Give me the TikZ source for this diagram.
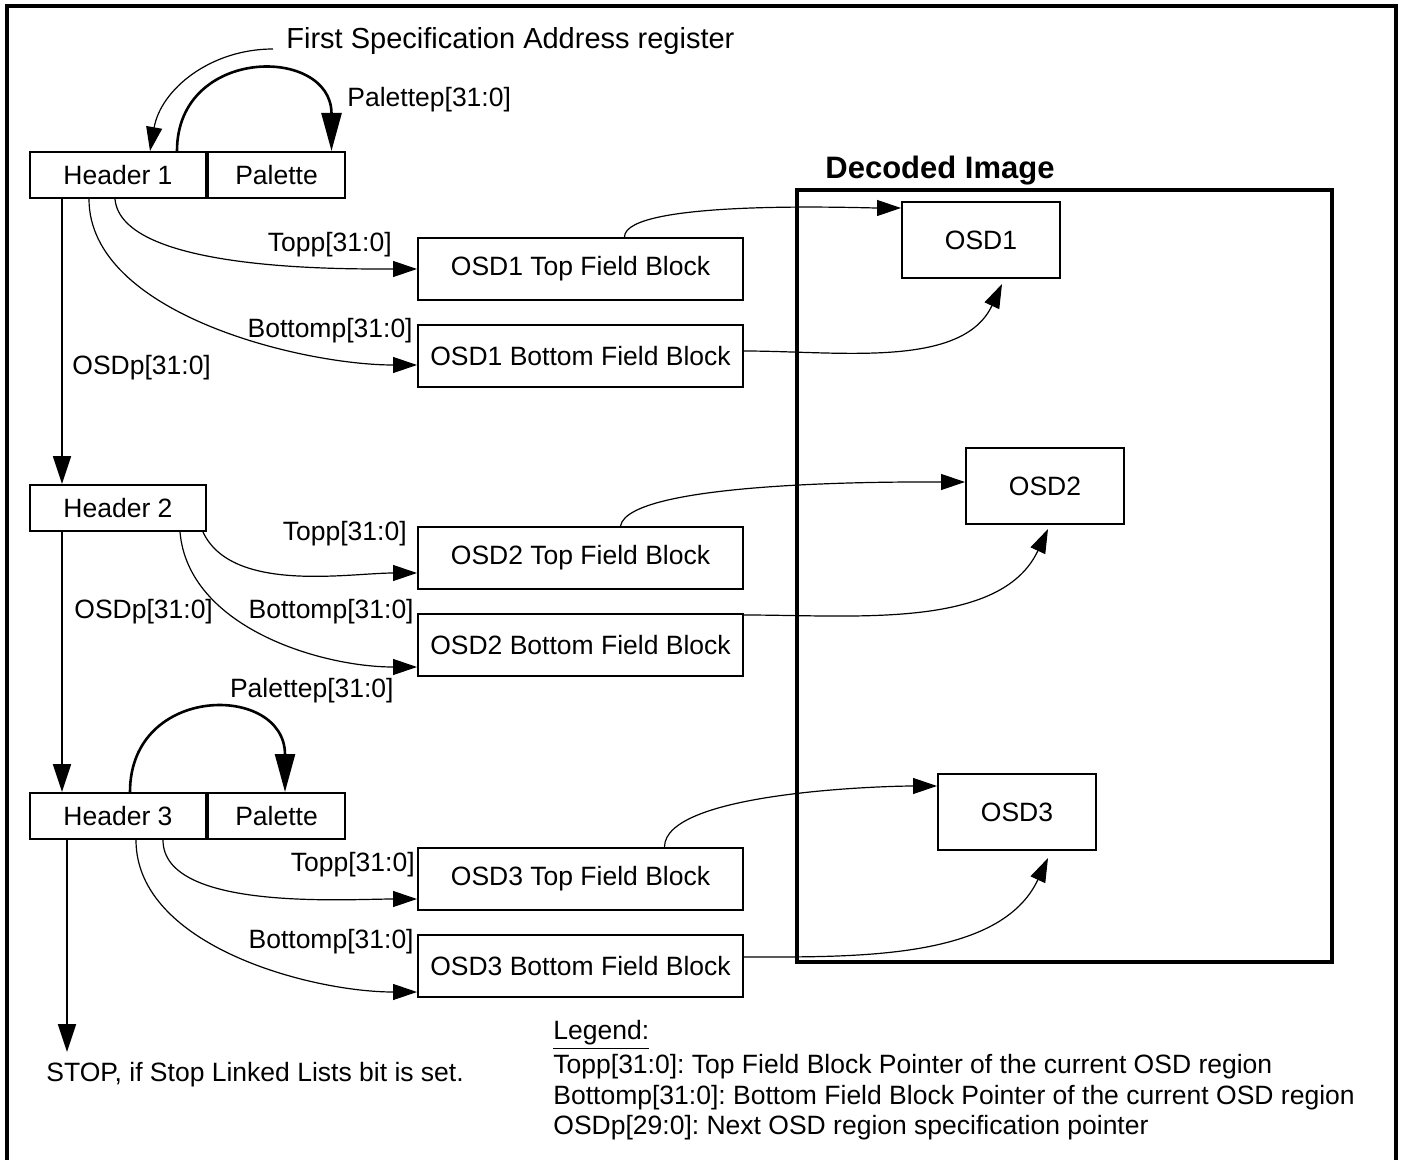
\documentclass[tikz,border=0pt]{standalone}
\usepackage{fontspec}
\setmainfont{Liberation Sans}
\usetikzlibrary{positioning, arrows.meta}
\tikzset{
	>={Triangle[length=12pt, width=8pt]}, % filled arrow heads
	every node/.style={font=\fontsize{13.25}{15.5}\selectfont}, % one text size for the sheet
	box/.style={draw, line width=1pt, inner sep=0pt}, % plain rectangle
	header/.style={box, minimum width=88pt, minimum height=23pt}, % region specification header
	palette/.style={box, minimum width=68.5pt, minimum height=23pt},
	field/.style={box, minimum width=162.5pt, minimum height=31pt}, % top / bottom field blocks
	region/.style={box, minimum width=79pt, minimum height=38pt}, % OSD regions in the decoded image
	lbl/.style={inner sep=0pt}, % free text
	link/.style={->, line width=0.6pt}, % thin pointer edges
	nextlink/.style={->, line width=0.9pt, >={Triangle[length=14pt, width=9pt]}}, % OSDp chain
	pal/.style={->, line width=1.3pt, >={Triangle[length=19pt, width=10pt]}}, % palette pointer loops
}
\frenchspacing

\begin{document}
\begin{tikzpicture}[x=0.5pt, y=-0.5pt]
	\useasboundingbox (0,0) rectangle (1401,1160);
	\draw[line width=1.6pt] (7,1160) -- (7,6) -- (1396,6) -- (1396,1160); % frame, open at the bottom

	% headers and palettes
	\node[header] (h1) at (118,175) {Header 1};
	\node[palette, right=0pt of h1] (p1) {Palette};
	\node[header] (h2) at (118,508) {Header 2};
	\node[header] (h3) at (118,816) {Header 3};
	\node[palette, right=0pt of h3] (p3) {Palette};

	% field blocks
	\node[field] (t1) at (580.5,269) {OSD1 Top Field Block};
	\node[field, below=11.5pt of t1] (b1) {OSD1 Bottom Field Block};
	\node[field] (t2) at (580.5,558) {OSD2 Top Field Block};
	\node[field, below=11.5pt of t2] (b2) {OSD2 Bottom Field Block};
	\node[field] (t3) at (580.5,879) {OSD3 Top Field Block};
	\node[field, below=11.5pt of t3] (b3) {OSD3 Bottom Field Block};

	% decoded image
	\node[draw, line width=1.6pt, minimum width=267.5pt, minimum height=386pt, inner sep=0pt] (img) at (1064.5,576) {};
	\node[lbl, font=\bfseries\fontsize{15.5}{18}\selectfont] (title) at (940,171) {Decoded Image};
	\node[region] (o1) at (981,240) {OSD1};
	\node[region] (o2) at (1045,486) {OSD2};
	\node[region] (o3) at (1017,812) {OSD3};

	% labels
	\node[lbl, anchor=west, font=\fontsize{14.5}{17}\selectfont] (spec) at (286,41) {First Specification Address register};
	\node[lbl, anchor=west] (pp1) at (347,100) {Palettep[31:0]};
	\node[lbl, anchor=east] (tp1) at (392,245) {Topp[31:0]};
	\node[lbl, anchor=east] (bp1) at (413,331) {Bottomp[31:0]};
	\node[lbl, anchor=west] (op1) at (72,368) {OSDp[31:0]};
	\node[lbl, anchor=east] (tp2) at (407,534) {Topp[31:0]};
	\node[lbl, anchor=west] (op2) at (74,612) {OSDp[31:0]};
	\node[lbl, anchor=east] (bp2) at (414,612) {Bottomp[31:0]};
	\node[lbl, anchor=east] (pp2) at (394,691) {Palettep[31:0]};
	\node[lbl, anchor=east] (tp3) at (415,865) {Topp[31:0]};
	\node[lbl, anchor=east] (bp3) at (414,942) {Bottomp[31:0]};
	\node[lbl, anchor=west] (stoptxt) at (46,1075) {STOP, if Stop Linked Lists bit is set.};

	% legend
	\node[lbl, anchor=west] (leg) at (553,1035) {\underline{Legend:}};
	\node[lbl, anchor=west] (leg1) at (553,1067) {Topp[31:0]: Top Field Block Pointer of the current OSD region};
	\node[lbl, anchor=west] (leg2) at (553,1098) {Bottomp[31:0]: Bottom Field Block Pointer of the current OSD region};
	\node[lbl, anchor=west] (leg3) at (553,1128) {OSDp[29:0]: Next OSD region specification pointer};

	% linked list of headers
	\draw[link] ([shift={(-13,8)}]spec.west) to[out=180,in=80] ([xshift=16pt]h1.north);
	\draw[nextlink] ([xshift=-28pt]h1.south) -- ([xshift=-28pt]h2.north);
	\draw[nextlink] ([xshift=-28pt]h2.south) -- ([xshift=-28pt]h3.north);
	\coordinate (stop) at (67,1052);
	\draw[nextlink] ([xshift=-25.5pt]h3.south) -- (stop);

	% palette pointers
	\draw[pal] ([xshift=29.5pt]h1.north) to[out=90,in=90,looseness=1.75] ([xshift=27.5pt]p1.north);
	\draw[pal] ([xshift=6pt]h3.north) to[out=90,in=90,looseness=1.8] ([xshift=4.25pt]p3.north);

	% header -> field blocks
	\draw[link] ([xshift=-1.5pt]h1.south) to[out=-85,in=180,looseness=0.6] (t1.west);
	\draw[link] ([xshift=-14.5pt]h1.south) to[out=-90,in=180,looseness=0.8] ([yshift=-4.5pt]b1.west);
	\draw[link] ([xshift=42.5pt]h2.south) to[out=-65,in=180,looseness=0.8] ([yshift=-7.5pt]t2.west);
	\draw[link] ([xshift=31pt]h2.south) to[out=-85,in=180,looseness=0.9] ([yshift=-11pt]b2.west);
	\draw[link] ([xshift=22.5pt]h3.south) to[out=-90,in=180,looseness=0.7] ([yshift=-10pt]t3.west);
	\draw[link] ([xshift=9pt]h3.south) to[out=-90,in=180,looseness=0.85] ([yshift=-13pt]b3.west);

	% field blocks -> OSD regions
	\draw[link] ([xshift=22pt]t1.north) to[out=90,in=180,looseness=0.35] ([yshift=-3.5pt]o1.north west);
	\draw[link] ([yshift=2.5pt]b1.east) to[out=0,in=-115,looseness=0.9] ([xshift=10.5pt,yshift=-2.5pt]o1.south);
	\draw[link] ([xshift=20pt]t2.north) to[out=80,in=180,looseness=0.35] ([yshift=2pt]o2.west);
	\draw[link] ([yshift=-1pt]b2.north east) to[out=0,in=-115,looseness=0.9] ([xshift=1.5pt,yshift=-2pt]o2.south);
	\draw[link] ([xshift=42pt]t3.north) to[out=90,in=180,looseness=0.5] ([yshift=13pt]o3.west);
	\draw[link] ([yshift=4.5pt]b3.east) to[out=0,in=-115,looseness=0.9] ([xshift=15.5pt,yshift=-3.5pt]o3.south);
\end{tikzpicture}
\end{document}
